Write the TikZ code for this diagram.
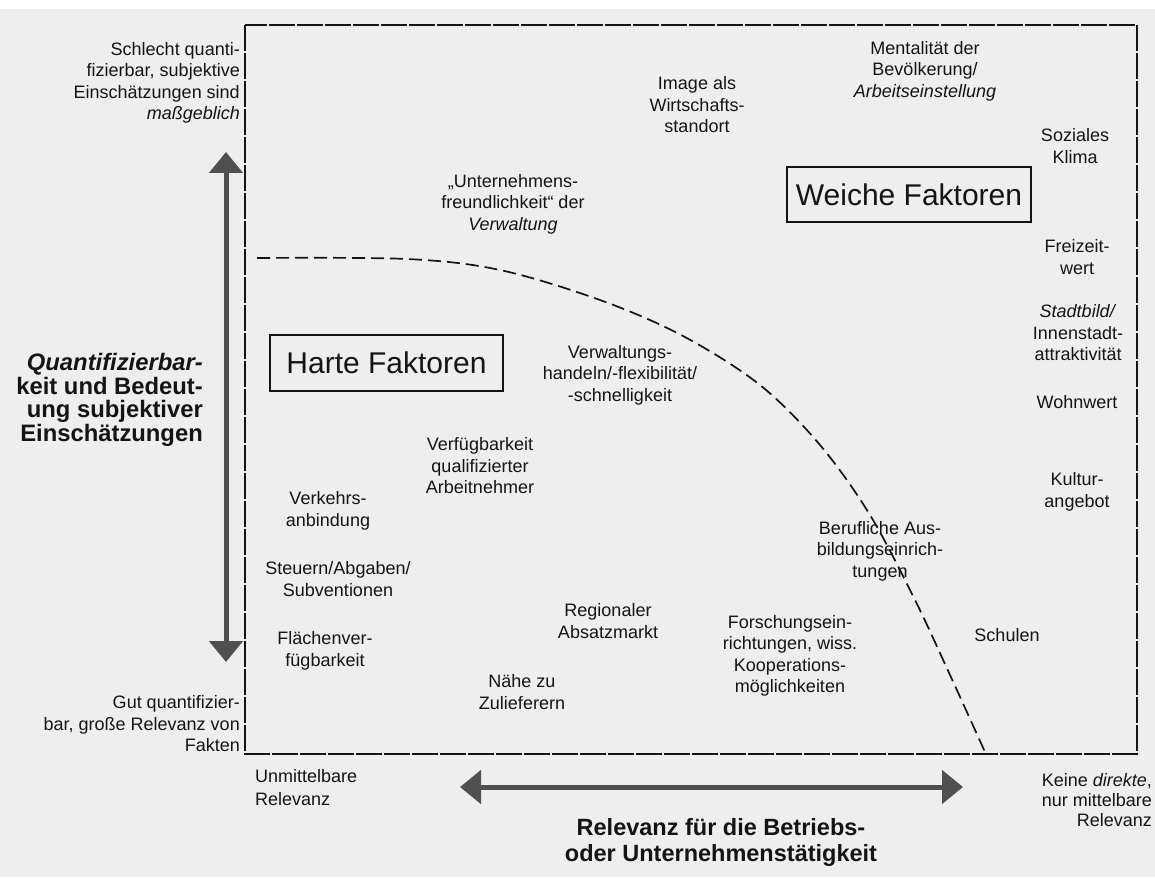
\documentclass[tikz,border=0pt]{standalone}
\usepackage{fontspec}
\setmainfont{Liberation Sans}
\usetikzlibrary{arrows.meta}
\definecolor{paper}{HTML}{EEEEEE}
\definecolor{ink}{HTML}{141414}
\definecolor{arrowgray}{HTML}{505050}
\begin{document}
\begin{tikzpicture}[x=1pt,y=-1pt,
  lbl/.style={text=ink, inner sep=0pt, font=\fontsize{18}{21.5}\selectfont, align=center},
  lblr/.style={lbl, align=right, anchor=east},
  lbll/.style={lbl, align=left, anchor=west},
  bigtxt/.style={text=ink, inner sep=0pt, font=\fontsize{23.8}{23.5}\selectfont\bfseries},
  factorbox/.style={draw=ink, line width=1.5pt, inner sep=0pt, text=ink,
     font=\fontsize{30}{30}\selectfont},
  frame/.style={draw=ink, line width=1.5pt, dash pattern=on 26pt off 2pt},
  curve/.style={draw=ink, line width=1.7pt, dash pattern=on 13pt off 6pt},
  bigarrow/.style={draw=arrowgray, line width=5pt,
     {Triangle[length=21pt,width=33pt]}-{Triangle[length=21pt,width=33pt]}},
]
\useasboundingbox (0,0) rectangle (1155,877);
\fill[paper] (0,0) rectangle (1155,877);
\fill[white] (0,0) rectangle (1155,9);

% frame
\draw[frame] (245,25) rectangle (1137,754);

% boundary between hard and soft factors
\draw[curve] plot[smooth,tension=0.55] coordinates {(257,258) (407,259) (500,270) (600,300) (683,336) (760,385) (820,445) (870,515) (915,600) (950,675) (985,752)};

% axis arrows
\coordinate (vtop) at (226,152);
\coordinate (vbot) at (226,662);
\draw[bigarrow] (vtop) -- (vbot);
\coordinate (hleft) at (460,787);
\coordinate (hright) at (963,787);
\draw[bigarrow] (hleft) -- (hright);

% axis labels
\node[lblr] (schlecht) at (240,83) {Schlecht quanti-\\fizierbar, subjektive\\Einschätzungen sind\\\textit{maßgeblich}};
\node[bigtxt, align=right, anchor=east] (quant) at (203,400) {\textit{Quantifizierbar-}\\keit und Bedeut-\\ung subjektiver\\Einschätzungen};
\node[lblr] (gut) at (240,724) {Gut quantifizier-\\bar, große Relevanz von\\Fakten};
\node[lbll, font=\fontsize{18}{23}\selectfont] (unmittel) at (255,788) {Unmittelbare\\Relevanz};
\node[lblr, font=\fontsize{18}{20}\selectfont] (keine) at (1152,800) {Keine \textit{direkte},\\nur mittelbare\\Relevanz};
\node[bigtxt, align=center, font=\fontsize{23.5}{26}\selectfont\bfseries] (relevanz) at (721,842) {Relevanz für die Betriebs-\\oder Unternehmenstätigkeit};

% category boxes
\node[factorbox, minimum width=233pt, minimum height=56pt] (harte) at (386.5,363) {Harte Faktoren};
\node[factorbox, minimum width=244pt, minimum height=55pt] (weiche) at (909,194.5) {Weiche Faktoren};

% factors
\node[lbl] (image) at (697,105) {Image als\\Wirtschafts-\\standort};
\node[lbl] (unternehmen) at (513,204) {„Unternehmens-\\freundlichkeit“ der\\\textit{Verwaltung}};
\node[lbl] (mentalitaet) at (925,71) {Mentalität der\\Bevölkerung/\\\textit{Arbeitseinstellung}};
\node[lbl] (sozial) at (1075,146) {Soziales\\Klima};
\node[lbl] (freizeit) at (1077,257) {Freizeit-\\wert};
\node[lbl] (stadtbild) at (1078,333) {\textit{Stadtbild/}\\Innenstadt-\\attraktivität};
\node[lbl] (wohnwert) at (1077,402) {Wohnwert};
\node[lbl] (kultur) at (1077,492) {Kultur-\\angebot};
\node[lbl] (beruf) at (880,551) {Berufliche Aus-\\bildungseinrich-\\tungen};
\node[lbl] (schulen) at (1007,635) {Schulen};
\node[lbl] (forschung) at (790,656) {Forschungsein-\\richtungen, wiss.\\Kooperations-\\möglichkeiten};
\node[lbl] (regional) at (608,621) {Regionaler\\Absatzmarkt};
\node[lbl] (naehe) at (522,692) {Nähe zu\\Zulieferern};
\node[lbl] (verwaltung) at (620,375) {Verwaltungs-\\handeln/-flexibilität/\\-schnelligkeit};
\node[lbl] (verfueg) at (480,466) {Verfügbarkeit\\qualifizierter\\Arbeitnehmer};
\node[lbl] (verkehr) at (328,511) {Verkehrs-\\anbindung};
\node[lbl] (steuern) at (338,579) {Steuern/Abgaben/\\Subventionen};
\node[lbl] (flaechen) at (325,651) {Flächenver-\\fügbarkeit};
\end{tikzpicture}
\end{document}
